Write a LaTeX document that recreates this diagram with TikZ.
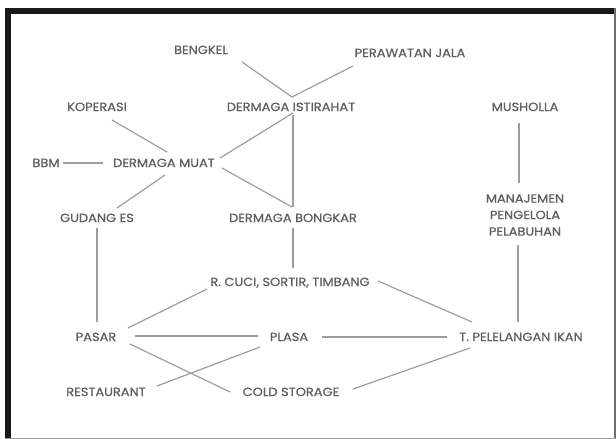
\documentclass[tikz,border=0pt]{standalone}
\usepackage{fontspec}
\setmainfont{Poppins}[FakeStretch=1.1,FakeBold=0.8]
\usetikzlibrary{calc}
\definecolor{txt}{RGB}{96,96,90}
\definecolor{edge}{RGB}{158,158,158}
\definecolor{frameg}{RGB}{110,110,110}
\tikzset{
  lbl/.style={inner sep=0pt, text=txt, font=\fontsize{11.8}{17}\selectfont, text height=8pt, text depth=0pt},
  mlbl/.style={inner sep=0pt, text=txt, font=\fontsize{11.8}{16.5}\selectfont, align=center},
  con/.style={draw=edge, line width=1.2pt}
}
\begin{document}
\begin{tikzpicture}[x=1pt,y=-1pt]
\useasboundingbox (0,0) rectangle (616,439);
% frame
\fill[white] (0,0) rectangle (616,439);
\fill[black!90] (5,8) rectangle (616,13.5);
\fill[black!90] (5,8) rectangle (11,439);
\fill[frameg] (614.3,8) rectangle (616,439);
\fill[frameg!70] (5,437.8) rectangle (616,439);
% nodes
\node[lbl] (bengkel) at (201,50) {BENGKEL};
\node[lbl] (jala) at (410,53) {PERAWATAN JALA};
\node[lbl] (istirahat) at (291,107) {DERMAGA ISTIRAHAT};
\node[lbl] (koperasi) at (97,107) {KOPERASI};
\node[lbl] (musholla) at (525,107) {MUSHOLLA};
\node[lbl] (bbm) at (46,163) {BBM};
\node[lbl] (muat) at (164,163) {DERMAGA MUAT};
\node[lbl] (gudang) at (97,218) {GUDANG ES};
\node[lbl] (bongkar) at (293,218) {DERMAGA BONGKAR};
\node[mlbl] (manajemen) at (525,215) {MANAJEMEN\\PENGELOLA\\PELABUHAN};
\node[lbl] (cuci) at (290,282) {R. CUCI, SORTIR, TIMBANG};
\node[lbl] (pasar) at (96,337) {PASAR};
\node[lbl] (plasa) at (289,337) {PLASA};
\node[lbl] (lelang) at (521,337) {T. PELELANGAN IKAN};
\node[lbl] (restaurant) at (106,392) {RESTAURANT};
\node[lbl] (cold) at (291,392) {COLD STORAGE};
% connectors
\draw[con] ($(bengkel)+(41,12)$) -- ($(istirahat)+(1,-10)$);
\draw[con] ($(jala)+(-57,13)$) -- ($(istirahat)+(1,-10)$);
\draw[con] ($(koperasi)+(15,13)$) -- ($(muat)+(3,-11)$);
\draw[con] ($(bbm)+(17,0)$) -- ($(muat)+(-61,0)$);
\draw[con] ($(muat)+(56,-5)$) -- ($(istirahat)+(2,6)$);
\draw[con] ($(muat)+(58,5)$) -- ($(bongkar)+(-1,-11)$);
\draw[con] ($(istirahat)+(2,8)$) -- ($(bongkar)+(0,-11)$);
\draw[con] ($(muat)+(1,12)$) -- ($(gudang)+(20,-10)$);
\draw[con] ($(gudang)+(0,10)$) -- ($(pasar)+(1,-15)$);
\draw[con] ($(bongkar)+(0,10)$) -- ($(cuci)+(3,-14)$);
\draw[con] ($(cuci)+(-83,7)$) -- ($(pasar)+(32,-9)$);
\draw[con] ($(cuci)+(88,-1)$) -- ($(lelang)+(-49,-15)$);
\draw[con] ($(pasar)+(39,-1)$) -- ($(plasa)+(-31,-1)$);
\draw[con] ($(plasa)+(33,0)$) -- ($(lelang)+(-74,0)$);
\draw[con] ($(pasar)+(34,7)$) -- ($(cold)+(-61,0)$);
\draw[con] ($(plasa)+(-29,10)$) -- ($(restaurant)+(51,-6)$);
\draw[con] ($(cold)+(62,-3)$) -- ($(lelang)+(-51,11)$);
\draw[con] ($(musholla)+(-6,16)$) -- ($(manajemen)+(-6,-32)$);
\draw[con] ($(manajemen)+(-7,30)$) -- ($(lelang)+(-3,-15)$);
\end{tikzpicture}
\end{document}
